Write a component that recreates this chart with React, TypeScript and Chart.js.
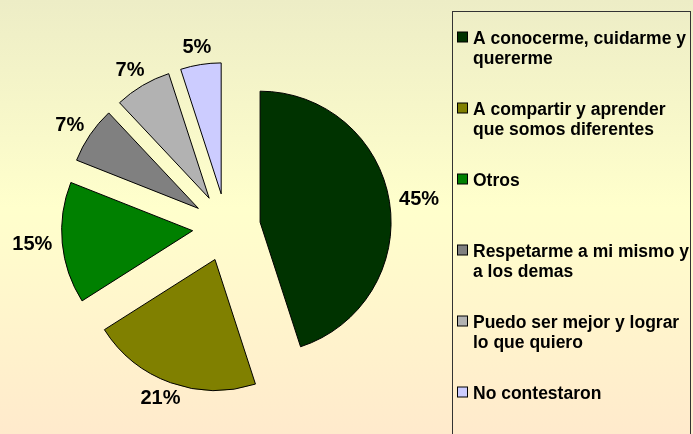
import React, { useEffect, useRef } from "react";
import { Chart, registerables } from "chart.js";

Chart.register(...registerables);

const categories: string[][] = [
  ["A conocerme, cuidarme y", "quererme"],
  ["A compartir y aprender", "que somos diferentes"],
  ["Otros"],
  ["Respetarme a mi mismo y", "a los demas"],
  ["Puedo ser mejor y lograr", "lo que quiero"],
  ["No contestaron"],
];
const values: number[] = [45, 21, 15, 7, 7, 5];
const colors: string[] = ["#003300", "#808000", "#008000", "#808080", "#B2B2B2", "#CCCCFF"];

const EXPLODE = 34;
const RADIUS = 131;
const FONT = "'Liberation Sans', Arial, sans-serif";

const explodePlugin = {
  id: "explodeArcs",
  beforeDatasetDraw(chart: any, args: any) {
    const ctx = chart.ctx;
    args.meta.data.forEach((arc: any) => {
      const half = (arc.startAngle + arc.endAngle) / 2;
      ctx.save();
      ctx.translate(Math.cos(half) * EXPLODE, Math.sin(half) * EXPLODE);
      arc.draw(ctx);
      ctx.restore();
    });
    return false;
  },
};

const labelPlugin = {
  id: "pctLabels",
  afterDatasetsDraw(chart: any) {
    const ctx = chart.ctx;
    const meta = chart.getDatasetMeta(0);
    const total = values.reduce((a, b) => a + b, 0);
    ctx.save();
    ctx.font = `bold 20px ${FONT}`;
    ctx.fillStyle = "#000";
    ctx.textAlign = "center";
    ctx.textBaseline = "middle";
    meta.data.forEach((arc: any, i: number) => {
      const text = `${Math.round((values[i] / total) * 100)}%`;
      const w = ctx.measureText(text).width;
      const h = 14;
      const half = (arc.startAngle + arc.endAngle) / 2;
      const cx = Math.cos(half);
      const cy = Math.sin(half);
      const dist = EXPLODE + arc.outerRadius + 10;
      const x = arc.x + cx * dist + (cx * w) / 2;
      const y = arc.y + cy * dist + (cy * h) / 2;
      ctx.fillText(text, x, y);
    });
    ctx.restore();
  },
};

const legendPlugin = {
  id: "boxLegend",
  afterDraw(chart: any) {
    const ctx = chart.ctx;
    ctx.save();
    ctx.strokeStyle = "#333333";
    ctx.lineWidth = 1;
    ctx.strokeRect(452.5, 11.5, 238, 440);
    ctx.font = `bold 17.5px ${FONT}`;
    ctx.textAlign = "left";
    ctx.textBaseline = "alphabetic";
    categories.forEach((lines, i) => {
      const base = 43.5 + 71 * i;
      ctx.fillStyle = colors[i];
      ctx.fillRect(457.5, base - 11.5, 10, 10);
      ctx.strokeStyle = "#000";
      ctx.strokeRect(457.5, base - 11.5, 10, 10);
      ctx.fillStyle = "#000";
      lines.forEach((line, j) => {
        ctx.fillText(line, 473, base + 20 * j);
      });
    });
    ctx.restore();
  },
};

export default function App() {
  const canvasRef = useRef<HTMLCanvasElement | null>(null);

  useEffect(() => {
    if (!canvasRef.current) return;
    const chart = new Chart(canvasRef.current, {
      type: "pie",
      data: {
        labels: categories,
        datasets: [
          {
            data: values,
            backgroundColor: colors,
            borderColor: "#000000",
            borderWidth: 1,
            radius: RADIUS,
          } as any,
        ],
      },
      options: {
        responsive: false,
        animation: false,
        events: [],
        radius: RADIUS,
        layout: { padding: { left: 0, right: 240, top: 21, bottom: 0 } },
        plugins: {
          legend: { display: false },
          tooltip: { enabled: false },
        },
      } as any,
      plugins: [explodePlugin, labelPlugin, legendPlugin],
    });
    return () => chart.destroy();
  }, []);

  return (
    <div
      style={{
        position: "fixed",
        left: 0,
        top: 0,
        width: 693,
        height: 434,
        background: "linear-gradient(to bottom, #EDEDC6 0%, #FFFFCC 48%, #FFEACC 100%)",
      }}
    >
      <canvas ref={canvasRef} width={693} height={434} style={{ display: "block" }} />
    </div>
  );
}
